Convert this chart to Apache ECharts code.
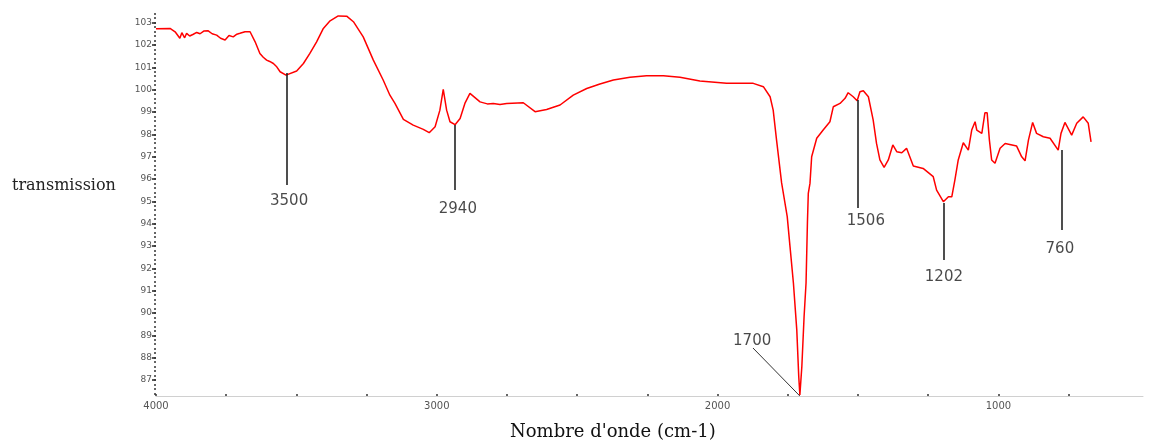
<!DOCTYPE html>
<html>
<head>
<meta charset="utf-8">
<script src="https://cdn.jsdelivr.net/npm/echarts@6/dist/echarts.min.js"></script>
<style>html,body{margin:0;padding:0;background:#fff}#c{width:1155px;height:441px}</style>
</head>
<body>
<div id="c"></div>
<script>
// Spectrum (wavenumber cm-1, transmission %)
const wavenumbers = [4000,3995,3950,3932,3915,3908,3898,3891,3880,3867,3855,3843,3830,3814,3800,3784,3770,3754,3740,3725,3712,3701,3683,3665,3647,3630,3618,3606,3595,3582,3570,3558,3537,3499,3475,3452,3428,3404,3380,3351,3321,3297,3262,3226,3191,3167,3149,3119,3084,3048,3027,3006,2989,2977,2971,2965,2953,2935,2917,2900,2882,2846,2820,2799,2775,2751,2692,2650,2609,2561,2514,2466,2419,2371,2312,2253,2193,2134,2063,1968,1873,1837,1813,1802,1790,1772,1752,1742,1730,1718,1711,1707,1700,1692,1685,1680,1677,1671,1665,1647,1624,1600,1588,1564,1546,1535,1517,1503,1493,1481,1463,1446,1434,1422,1407,1392,1376,1362,1344,1327,1303,1268,1232,1220,1196,1178,1166,1155,1143,1125,1107,1095,1083,1077,1059,1048,1040,1032,1024,1012,994,976,935,917,905,893,878,864,840,816,787,777,763,739,721,698,680,670];
const transmission = [102.72,102.71,102.74,102.59,102.30,102.55,102.32,102.52,102.40,102.48,102.56,102.50,102.62,102.63,102.50,102.44,102.30,102.22,102.42,102.36,102.48,102.52,102.59,102.59,102.14,101.62,101.45,101.32,101.26,101.17,101.02,100.80,100.65,100.83,101.17,101.62,102.14,102.74,103.08,103.30,103.29,103.04,102.36,101.32,100.43,99.75,99.38,98.67,98.41,98.22,98.07,98.34,99.08,100.01,99.98,99.08,98.56,98.43,98.71,99.38,99.83,99.45,99.36,99.38,99.33,99.38,99.41,99.01,99.11,99.31,99.75,100.05,100.25,100.43,100.55,100.62,100.62,100.55,100.39,100.28,100.28,100.13,99.68,99.08,97.74,95.82,94.31,92.96,91.34,89.24,87.15,86.33,87.59,89.83,91.34,94.08,95.35,95.80,96.99,97.82,98.19,98.56,99.23,99.38,99.61,99.86,99.68,99.50,99.90,99.95,99.68,98.64,97.59,96.85,96.52,96.85,97.52,97.22,97.17,97.37,96.58,96.47,96.10,95.50,94.98,95.20,95.20,95.95,96.85,97.62,97.29,98.19,98.56,98.19,98.04,98.96,98.96,97.74,96.85,96.70,97.37,97.59,97.47,96.99,96.81,97.74,98.53,98.04,97.89,97.82,97.29,98.04,98.53,97.96,98.49,98.78,98.49,97.66];

// Axis ticks
const yTickValues = [87,88,89,90,91,92,93,94,95,96,97,98,99,100,101,102,103];
const xLabelValues = [1000,2000,3000,4000];
const xTickValues = [750,1000,1250,1500,1750,2000,2250,2500,2750,3000,3250,3500,3750,4000];

// Peak annotations: leader line (start -> end) and label
const annText      = ['3500','2940','1506','1202','760','1700'];
const annStartWn   = [3533,2935,1500,1194,773,1874];
const annStartVal  = [100.74,98.41,99.53,94.92,97.29,88.43];
const annEndWn     = [3533,2935,1500,1194,773,1707];
const annEndVal    = [95.73,95.50,94.70,92.37,93.71,86.28];
const annLabelWn   = [3526,2925,1472,1194,781,1877];
const annLabelVal  = [95.01,94.65,94.11,91.61,92.86,88.74];

const minorY = [];
for (let v = 864; v <= 1034; v += 2) minorY.push(v / 10);

const chart = echarts.init(document.getElementById('c'), null, {renderer:'canvas'});
const lineData = wavenumbers.map((w,i)=>[w, transmission[i]]);
const markData = annText.map((t,i)=>[{coord:[annStartWn[i], annStartVal[i]], lineStyle:{width: i===5?1:1.6, color: i===5?'#333':'#222'}},{coord:[annEndWn[i], annEndVal[i]]}]);
const labelData = annText.map((t,i)=>[annLabelWn[i], annLabelVal[i], t]);

chart.setOption({
  animation:false,
  backgroundColor:'#fff',
  grid:{left:156, right:12, top:13, bottom:45},
  xAxis:{
    type:'value', inverse:true, min:485, max:4000,
    axisLine:{show:true, lineStyle:{color:'#d0d0d0', width:1}},
    axisTick:{show:true, inside:true, length:2, customValues:xTickValues, lineStyle:{color:'#333', width:1.5}},
    axisLabel:{customValues:xLabelValues, formatter:v=>String(v), margin:5, fontSize:10, fontFamily:'DejaVu Sans', color:'#555'},
    splitLine:{show:false}
  },
  yAxis:[{
    type:'value', min:86.28, max:103.43,
    axisLine:{show:false},
    axisTick:{show:true, length:4, customValues:yTickValues, lineStyle:{color:'#222', width:1.5}},
    axisLabel:{customValues:yTickValues, formatter:v=>String(v), margin:4, fontSize:9, fontFamily:'DejaVu Sans', color:'#555'},
    splitLine:{show:false}
  },{
    type:'value', min:86.28, max:103.43, position:'left',
    axisLine:{show:false},
    axisTick:{show:true, length:2, customValues:minorY, lineStyle:{color:'#333', width:1.5}},
    axisLabel:{show:false},
    splitLine:{show:false}
  }],
  series:[{
    type:'line', data:lineData, showSymbol:false, symbol:'none',
    lineStyle:{color:'#ff0000', width:1.5}, silent:true,
    markLine:{symbol:['none','none'], silent:true, label:{show:false},
      lineStyle:{type:'solid', color:'#222', width:1.6}, data:markData, animation:false}
  },{
    type:'scatter', data:labelData, symbolSize:0, silent:true,
    label:{show:true, position:'inside', formatter:p=>p.data[2], fontFamily:'DejaVu Sans', fontSize:15, color:'#1a1a1a'}
  }],
  graphic:[
    {type:'text', left:12, top:178, style:{text:'transmission', font:'16px "DejaVu Serif"', fill:'#222'}},
    {type:'text', left:510, top:423, style:{text:"Nombre d'onde (cm-1)", font:'18px "DejaVu Serif"', fill:'#111'}}
  ]
});
</script>
</body>
</html>
